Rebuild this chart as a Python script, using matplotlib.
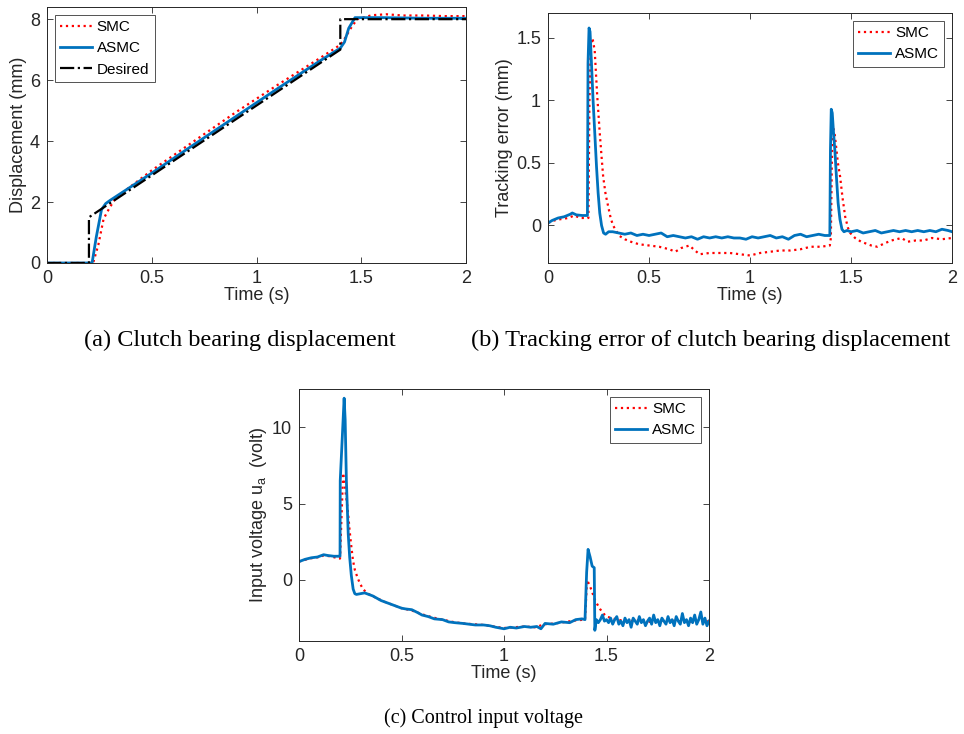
import matplotlib
matplotlib.use("Agg")
import matplotlib.pyplot as plt

plt.rcParams['font.family'] = ['Liberation Sans', 'DejaVu Sans']
plt.rcParams['mathtext.fontset'] = 'custom'
plt.rcParams['mathtext.rm'] = 'Liberation Sans'
plt.rcParams['mathtext.it'] = 'Liberation Sans'

# ---------------- data ----------------
# (a) displacement
t_des = [0, 0.2, 0.2, 1.4, 1.4, 2.0]
y_des = [0, 0, 1.5, 7.0, 8.0, 8.0]

t_a_asmc = [0, 0.215, 0.235, 0.26, 0.28, 0.3, 0.5, 0.7, 0.9, 1.1, 1.3, 1.4, 1.42, 1.44, 1.47, 1.6, 1.8, 2.0]
y_a_asmc = [0, 0, 0.85, 1.75, 1.95, 2.05, 2.95, 3.88, 4.8, 5.72, 6.62, 7.05, 7.25, 7.7, 8.05, 8.05, 8.03, 8.03]

t_a_smc = [0, 0.22, 0.245, 0.27, 0.3, 0.33, 0.5, 0.7, 0.9, 1.1, 1.3, 1.4, 1.42, 1.45, 1.48, 1.55, 1.62, 1.7, 1.8, 1.9, 2.0]
y_a_smc = [0, 0, 0.6, 1.45, 1.83, 2.15, 3.04, 3.99, 4.94, 5.84, 6.71, 7.16, 7.35, 7.7, 8.0, 8.13, 8.16, 8.12, 8.12, 8.1, 8.1]

# (b) tracking error
t_b_asmc = [0, 0.02, 0.05, 0.08, 0.11, 0.12, 0.14, 0.17, 0.195, 0.198, 0.203, 0.208, 0.215,
            0.223, 0.232, 0.24, 0.248, 0.256, 0.265, 0.275, 0.285, 0.30, 0.32, 0.35, 0.38,
            0.41, 0.44, 0.47, 0.50, 0.53, 0.56, 0.59, 0.62, 0.65, 0.68, 0.71, 0.74, 0.77,
            0.80, 0.83, 0.86, 0.89, 0.92, 0.95, 0.98, 1.01, 1.04, 1.07, 1.10, 1.13, 1.16,
            1.19, 1.22, 1.25, 1.28, 1.31, 1.34, 1.37, 1.395, 1.398, 1.402, 1.407, 1.413,
            1.42, 1.428, 1.436, 1.445, 1.455, 1.465, 1.48, 1.50, 1.53, 1.56, 1.59, 1.62,
            1.65, 1.68, 1.71, 1.74, 1.77, 1.80, 1.83, 1.86, 1.89, 1.92, 1.95, 1.98, 2.0]
e_b_asmc = [0.02, 0.04, 0.06, 0.07, 0.09, 0.10, 0.085, 0.08, 0.08, 1.3, 1.58, 1.55, 1.3,
            1.0, 0.72, 0.47, 0.26, 0.1, 0.0, -0.06, -0.07, -0.05, -0.05, -0.06, -0.07,
            -0.06, -0.08, -0.07, -0.08, -0.07, -0.06, -0.09, -0.08, -0.09, -0.10, -0.09, -0.11, -0.09,
            -0.10, -0.09, -0.10, -0.09, -0.10, -0.10, -0.11, -0.09, -0.10, -0.09, -0.08, -0.10, -0.09,
            -0.11, -0.08, -0.07, -0.09, -0.08, -0.07, -0.08, -0.08, 0.6, 0.93, 0.9, 0.75,
            0.6, 0.38, 0.18, 0.05, -0.03, -0.05, -0.04, -0.05, -0.04, -0.06, -0.05, -0.04,
            -0.06, -0.05, -0.04, -0.05, -0.04, -0.05, -0.04, -0.05, -0.04, -0.05, -0.03, -0.04, -0.05]

t_b_smc = [0, 0.03, 0.06, 0.1, 0.13, 0.16, 0.19, 0.2, 0.205, 0.212, 0.22, 0.231, 0.243, 0.256,
           0.265, 0.273, 0.285, 0.298, 0.31, 0.322, 0.34, 0.355, 0.38, 0.41, 0.45, 0.5, 0.55,
           0.6, 0.63, 0.66, 0.7, 0.72, 0.75, 0.8, 0.85, 0.9, 0.95, 1.0, 1.05, 1.1, 1.15, 1.2,
           1.25, 1.3, 1.35, 1.395, 1.4, 1.405, 1.41, 1.42, 1.435, 1.446, 1.458, 1.471, 1.485,
           1.496, 1.52, 1.55, 1.6, 1.63, 1.67, 1.7, 1.75, 1.78, 1.82, 1.86, 1.9, 1.95, 2.0]
e_b_smc = [0.02, 0.04, 0.05, 0.06, 0.08, 0.06, 0.06, 0.06, 1.0, 1.45, 1.5, 1.4, 1.05, 0.74,
           0.55, 0.39, 0.25, 0.15, 0.06, 0.0, -0.05, -0.085, -0.11, -0.13, -0.15, -0.16, -0.17,
           -0.19, -0.21, -0.18, -0.16, -0.19, -0.23, -0.22, -0.22, -0.22, -0.23, -0.24, -0.22, -0.21, -0.2, -0.2,
           -0.19, -0.17, -0.17, -0.16, -0.1, 0.5, 0.8, 0.72, 0.5, 0.39, 0.22, 0.07, -0.02,
           -0.06, -0.1, -0.13, -0.16, -0.17, -0.14, -0.12, -0.1, -0.13, -0.12, -0.12, -0.1, -0.11, -0.1]

# (c) control input voltage
t_c_asmc = [0, 0.03, 0.06, 0.09, 0.12, 0.14, 0.17, 0.198, 0.2, 0.201, 0.22, 0.225, 0.231,
            0.24, 0.247, 0.255, 0.264, 0.272, 0.28, 0.3, 0.32, 0.34, 0.36, 0.38, 0.4, 0.42,
            0.45, 0.48, 0.5, 0.52, 0.55, 0.58, 0.6, 0.63, 0.66, 0.7, 0.73, 0.76, 0.8, 0.83,
            0.86, 0.9, 0.93, 0.96, 1.0, 1.03, 1.06, 1.1, 1.13, 1.16, 1.18, 1.2, 1.24, 1.28,
            1.32, 1.35, 1.38, 1.395, 1.403, 1.41, 1.42, 1.43, 1.44, 1.443, 1.45,
            1.46, 1.47, 1.48, 1.49, 1.50, 1.51, 1.52, 1.53, 1.54, 1.55, 1.56, 1.57, 1.58, 1.59,
            1.60, 1.61, 1.62, 1.63, 1.64, 1.65, 1.66, 1.67, 1.68, 1.69, 1.70, 1.71, 1.72, 1.73,
            1.74, 1.75, 1.76, 1.77, 1.78, 1.79, 1.80, 1.81, 1.82, 1.83, 1.84, 1.85, 1.86, 1.87,
            1.88, 1.89, 1.90, 1.91, 1.92, 1.93, 1.94, 1.95, 1.96, 1.97, 1.98, 1.99, 2.00]
u_c_asmc = [1.2, 1.35, 1.45, 1.5, 1.65, 1.6, 1.55, 1.55, 1.55, 6.5, 11.9, 10.5, 6.5,
            3.0, 1.5, 0.3, -0.6, -0.9, -0.95, -0.9, -0.85, -0.95, -1.05, -1.2, -1.35, -1.45,
            -1.6, -1.75, -1.85, -1.9, -1.95, -2.15, -2.3, -2.4, -2.55, -2.6, -2.75, -2.8, -2.85, -2.9,
            -2.95, -2.95, -3.0, -3.1, -3.2, -3.1, -3.15, -3.05, -3.1, -3.05, -3.2, -2.85, -2.9, -2.75,
            -2.8, -2.6, -2.55, -2.6, 0.5, 2.0, 1.5, 0.9, 0.8, -3.3, -2.6,
            -2.8, -2.6, -2.3, -2.7, -2.6, -2.8, -2.5, -2.9, -2.6, -2.4, -2.9, -2.7, -3.0, -2.5,
            -2.8, -2.6, -3.1, -2.5, -2.7, -2.9, -2.4, -2.8, -2.6, -3.0, -2.7, -2.5, -2.9, -2.3,
            -2.8, -2.6, -3.0, -2.5, -2.7, -2.9, -2.4, -2.8, -2.6, -3.0, -2.4, -2.7, -2.9, -2.2,
            -2.8, -2.6, -3.0, -2.5, -2.8, -2.3, -2.9, -2.6, -2.1, -2.9, -2.5, -3.0, -2.7]

t_c_smc = [0, 0.05, 0.1, 0.12, 0.15, 0.198, 0.2, 0.215, 0.225, 0.239, 0.247, 0.255, 0.263,
           0.272, 0.284, 0.296, 0.31, 0.329, 0.35, 0.38, 0.42, 0.46, 0.5, 0.55, 0.6, 0.65,
           0.7, 0.75, 0.8, 0.85, 0.9, 0.95, 1.0, 1.05, 1.1, 1.15, 1.2, 1.25, 1.3, 1.35, 1.395,
           1.405, 1.419, 1.43, 1.443, 1.455, 1.468, 1.485, 1.5, 1.55, 1.6, 1.65, 1.7, 1.75,
           1.8, 1.85, 1.9, 1.95, 2.0]
u_c_smc = [1.2, 1.4, 1.5, 1.6, 1.55, 1.4, 1.4, 7.0, 6.0, 4.4, 3.2, 2.2, 1.3,
           0.67, 0.2, -0.2, -0.55, -0.85, -1.0, -1.2, -1.45, -1.65, -1.85, -2.0, -2.25, -2.45,
           -2.6, -2.75, -2.85, -2.9, -2.95, -3.05, -3.15, -3.1, -3.05, -3.1, -2.9, -2.85, -2.75, -2.65, -2.6,
           0.0, -0.4, -0.8, -1.3, -1.6, -1.9, -2.2, -2.4, -2.6, -2.7, -2.65, -2.75, -2.7,
           -2.65, -2.7, -2.75, -2.65, -2.7]

x_ticks = [0, 0.5, 1, 1.5, 2]
x_ticklabels = ['0', '0.5', '1', '1.5', '2']

# ---------------- styling ----------------
BLUE = '#0072BD'
RED = '#FF0000'
AX_COL = '#262626'
TICK_FS = 13
LAB_FS = 13
LEG_FS = 11
CAP_FS_TOP = 17.5
CAP_FS_BOT = 14.5

fig = plt.figure(figsize=(9.64, 7.34), dpi=100)


def style(ax, yticks, yticklabels, ylim):
    ax.set_xlim(0, 2)
    ax.set_ylim(*ylim)
    ax.set_xticks(x_ticks)
    ax.set_xticklabels(x_ticklabels)
    ax.set_yticks(yticks)
    ax.set_yticklabels(yticklabels)
    ax.tick_params(direction='in', top=True, right=True, length=4, width=0.6,
                   colors=AX_COL, labelsize=TICK_FS, pad=5)
    for s in ax.spines.values():
        s.set_color(AX_COL)
        s.set_linewidth(0.7)
    ax.set_xlabel('Time (s)', fontsize=LAB_FS, color=AX_COL, labelpad=0)


def legend(ax, loc):
    lg = ax.legend(loc=loc, fontsize=LEG_FS, frameon=True, fancybox=False,
                   handlelength=2.1, handletextpad=0.3, borderpad=0.35,
                   labelspacing=0.48, borderaxespad=0.5)
    lg.get_frame().set_edgecolor(AX_COL)
    lg.get_frame().set_linewidth(0.7)
    return lg


# (a)
ax1 = fig.add_axes([0.0488, 0.6417, 0.4346, 0.3488])
ax1.plot(t_a_smc, y_a_smc, ':', color=RED, lw=1.6, label='SMC')
ax1.plot(t_a_asmc, y_a_asmc, '-', color=BLUE, lw=2.0, label='ASMC')
ax1.plot(t_des, y_des, '-.', color='black', lw=1.6, label='Desired')
style(ax1, [0, 2, 4, 6, 8], ['0', '2', '4', '6', '8'], (0, 8.4))
ax1.set_ylabel('Displacement (mm)', fontsize=LAB_FS, color=AX_COL, labelpad=2)
legend(ax1, 'upper left')

# (b)
ax2 = fig.add_axes([0.5685, 0.6417, 0.4191, 0.3406])
ax2.plot(t_b_smc, e_b_smc, ':', color=RED, lw=1.6, label='SMC')
ax2.plot(t_b_asmc, e_b_asmc, '-', color=BLUE, lw=2.0, label='ASMC')
style(ax2, [0, 0.5, 1, 1.5], ['0', '0.5', '1', '1.5'], (-0.3, 1.7))
ax2.set_ylabel('Tracking error (mm)', fontsize=LAB_FS, color=AX_COL, labelpad=2)
legend(ax2, 'upper right')

# (c)
ax3 = fig.add_axes([0.3102, 0.1267, 0.4253, 0.3433])
ax3.plot(t_c_smc, u_c_smc, ':', color=RED, lw=1.6, label='SMC')
ax3.plot(t_c_asmc, u_c_asmc, '-', color=BLUE, lw=2.0, label='ASMC')
style(ax3, [0, 5, 10], ['0', '5', '10'], (-4, 12.5))
ax3.set_ylabel(r'Input voltage u$_{\mathrm{a}}$  (volt)', fontsize=LAB_FS, color=AX_COL, labelpad=2)
legend(ax3, 'upper right')

# captions
cap_font = ['Liberation Serif', 'DejaVu Serif']
fig.text(240 / 964, 1 - 340 / 734, '(a) Clutch bearing displacement', ha='center', va='center',
         fontsize=CAP_FS_TOP, family=cap_font)
fig.text(711 / 964, 1 - 340 / 734, '(b) Tracking error of clutch bearing displacement', ha='center',
         va='center', fontsize=CAP_FS_TOP, family=cap_font)
fig.text(484 / 964, 1 - 718 / 734, '(c) Control input voltage', ha='center', va='center',
         fontsize=CAP_FS_BOT, family=cap_font)

fig.savefig('out.png', dpi=100)
